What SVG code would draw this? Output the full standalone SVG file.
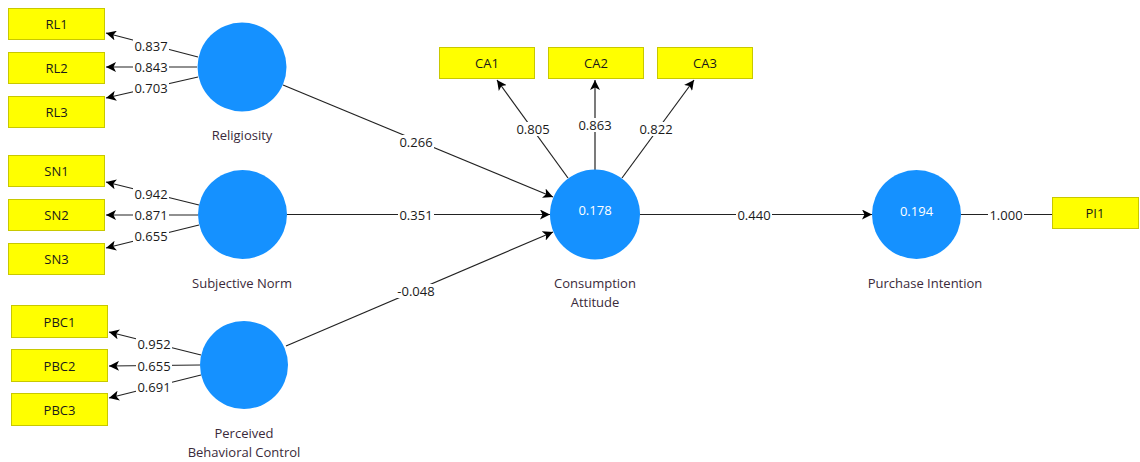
<svg xmlns="http://www.w3.org/2000/svg" width="1140" height="462" viewBox="0 0 1140 462">
<style>
.box{fill:#FFFF00;stroke:#C8C800;stroke-width:1}
.lv{fill:#1591FF}
.t{font-family:"Open Sans","DejaVu Sans",sans-serif;font-size:13px;fill:#1a1a1a;text-anchor:middle;dominant-baseline:central}
.tw{font-family:"Open Sans","DejaVu Sans",sans-serif;font-size:13px;fill:#FFFFFF;text-anchor:middle;dominant-baseline:central}
.nm{font-family:"Open Sans","DejaVu Sans",sans-serif;font-size:13px;fill:#3A2A3A;text-anchor:middle;dominant-baseline:central}
.lbl{font-family:"Open Sans","DejaVu Sans",sans-serif;font-size:13px;fill:#1a1a1a;text-anchor:middle;dominant-baseline:central}
.bg{fill:#fff}
.c{stroke:#222;stroke-width:1.2;fill:none}
</style>
<defs>
<marker id="ah" viewBox="0 0 10 10" refX="10" refY="5" markerWidth="10" markerHeight="10" markerUnits="userSpaceOnUse" orient="auto">
<path d="M0,0 L10,5 L0,10 L2.5,5 z" fill="#000"/>
</marker>
</defs>
<g id="connectors">
<line class="c" x1="198" y1="57" x2="106" y2="33" marker-end="url(#ah)"/>
<line class="c" x1="197" y1="67" x2="106" y2="67" marker-end="url(#ah)"/>
<line class="c" x1="198" y1="77" x2="106" y2="98" marker-end="url(#ah)"/>
<line class="c" x1="199" y1="205" x2="106" y2="182" marker-end="url(#ah)"/>
<line class="c" x1="198" y1="215" x2="106" y2="215" marker-end="url(#ah)"/>
<line class="c" x1="199" y1="225" x2="106" y2="248" marker-end="url(#ah)"/>
<line class="c" x1="201" y1="355" x2="109" y2="332" marker-end="url(#ah)"/>
<line class="c" x1="200" y1="365" x2="109" y2="366" marker-end="url(#ah)"/>
<line class="c" x1="201" y1="375" x2="109" y2="398" marker-end="url(#ah)"/>
<line class="c" x1="568" y1="178" x2="497" y2="80" marker-end="url(#ah)"/>
<line class="c" x1="595" y1="170" x2="595" y2="80" marker-end="url(#ah)"/>
<line class="c" x1="622" y1="178" x2="694" y2="80" marker-end="url(#ah)"/>
<line class="c" x1="283" y1="85" x2="553" y2="197" marker-end="url(#ah)"/>
<line class="c" x1="287" y1="214.5" x2="550" y2="214.5" marker-end="url(#ah)"/>
<line class="c" x1="286" y1="346" x2="553" y2="232" marker-end="url(#ah)"/>
<line class="c" x1="640" y1="214.5" x2="872" y2="214.5" marker-end="url(#ah)"/>
<line class="c" x1="961" y1="214.5" x2="1052" y2="214.5"/>
<rect class="bg" x="133" y="39" width="36" height="14"/><text class="lbl" x="151" y="46">0.837</text>
<rect class="bg" x="133" y="60" width="36" height="14"/><text class="lbl" x="151" y="67">0.843</text>
<rect class="bg" x="133" y="81" width="36" height="14"/><text class="lbl" x="151" y="88">0.703</text>
<rect class="bg" x="133" y="187" width="36" height="14"/><text class="lbl" x="151" y="194">0.942</text>
<rect class="bg" x="133" y="208" width="36" height="14"/><text class="lbl" x="151" y="215">0.871</text>
<rect class="bg" x="133" y="229" width="36" height="14"/><text class="lbl" x="151" y="236">0.655</text>
<rect class="bg" x="136" y="337" width="36" height="14"/><text class="lbl" x="154" y="344">0.952</text>
<rect class="bg" x="136" y="359" width="36" height="14"/><text class="lbl" x="154" y="366">0.655</text>
<rect class="bg" x="136" y="380" width="36" height="14"/><text class="lbl" x="154" y="387">0.691</text>
<rect class="bg" x="515" y="122" width="36" height="14"/><text class="lbl" x="533" y="129">0.805</text>
<rect class="bg" x="577" y="118" width="36" height="14"/><text class="lbl" x="595" y="125">0.863</text>
<rect class="bg" x="638" y="122" width="36" height="14"/><text class="lbl" x="656" y="129">0.822</text>
<rect class="bg" x="398" y="135" width="36" height="14"/><text class="lbl" x="416" y="142">0.266</text>
<rect class="bg" x="398" y="208" width="36" height="14"/><text class="lbl" x="416" y="215">0.351</text>
<rect class="bg" x="395" y="284" width="42" height="14"/><text class="lbl" x="416" y="291">-0.048</text>
<rect class="bg" x="736" y="208" width="36" height="14"/><text class="lbl" x="754" y="215">0.440</text>
<rect class="bg" x="988" y="208" width="36" height="14"/><text class="lbl" x="1006" y="215">1.000</text>
</g>
<g id="RL1"><rect class="box" x="8.5" y="8.5" width="96" height="31"/><text class="t" x="56.5" y="24">RL1</text></g>
<g id="RL2"><rect class="box" x="8.5" y="52.5" width="96" height="31"/><text class="t" x="56.5" y="68">RL2</text></g>
<g id="RL3"><rect class="box" x="8.5" y="96.5" width="96" height="31"/><text class="t" x="56.5" y="112">RL3</text></g>
<g id="SN1"><rect class="box" x="8.5" y="155.5" width="96" height="31"/><text class="t" x="56.5" y="171">SN1</text></g>
<g id="SN2"><rect class="box" x="8.5" y="199.5" width="96" height="31"/><text class="t" x="56.5" y="215">SN2</text></g>
<g id="SN3"><rect class="box" x="8.5" y="243.5" width="96" height="31"/><text class="t" x="56.5" y="259">SN3</text></g>
<g id="PBC1"><rect class="box" x="11.5" y="305.5" width="96" height="32"/><text class="t" x="59.5" y="322">PBC1</text></g>
<g id="PBC2"><rect class="box" x="11.5" y="349.5" width="96" height="32"/><text class="t" x="59.5" y="366">PBC2</text></g>
<g id="PBC3"><rect class="box" x="11.5" y="393.5" width="96" height="32"/><text class="t" x="59.5" y="410">PBC3</text></g>
<g id="CA1"><rect class="box" x="439.5" y="47.5" width="95" height="31"/><text class="t" x="487" y="63">CA1</text></g>
<g id="CA2"><rect class="box" x="548.5" y="47.5" width="95" height="31"/><text class="t" x="596" y="63">CA2</text></g>
<g id="CA3"><rect class="box" x="657.5" y="47.5" width="95" height="31"/><text class="t" x="705" y="63">CA3</text></g>
<g id="PI1"><rect class="box" x="1052.5" y="197.5" width="86" height="31"/><text class="t" x="1095" y="213">PI1</text></g>
<g id="Religiosity"><circle class="lv" cx="242" cy="67" r="44.5"/><text class="nm" x="242" y="135">Religiosity</text></g>
<g id="SubjectiveNorm"><circle class="lv" cx="242.5" cy="214.5" r="44.5"/><text class="nm" x="242" y="283">Subjective Norm</text></g>
<g id="PerceivedBehavioralControl"><circle class="lv" cx="244" cy="365" r="44"/><text class="nm" x="244" y="433">Perceived</text><text class="nm" x="244" y="452">Behavioral Control</text></g>
<g id="ConsumptionAttitude"><circle class="lv" cx="595" cy="214.5" r="45"/><text class="tw" x="595" y="210">0.178</text><text class="nm" x="595" y="283">Consumption</text><text class="nm" x="595" y="302">Attitude</text></g>
<g id="PurchaseIntention"><circle class="lv" cx="916.5" cy="214.5" r="44.5"/><text class="tw" x="916.5" y="211">0.194</text><text class="nm" x="925" y="283">Purchase Intention</text></g>
</svg>
